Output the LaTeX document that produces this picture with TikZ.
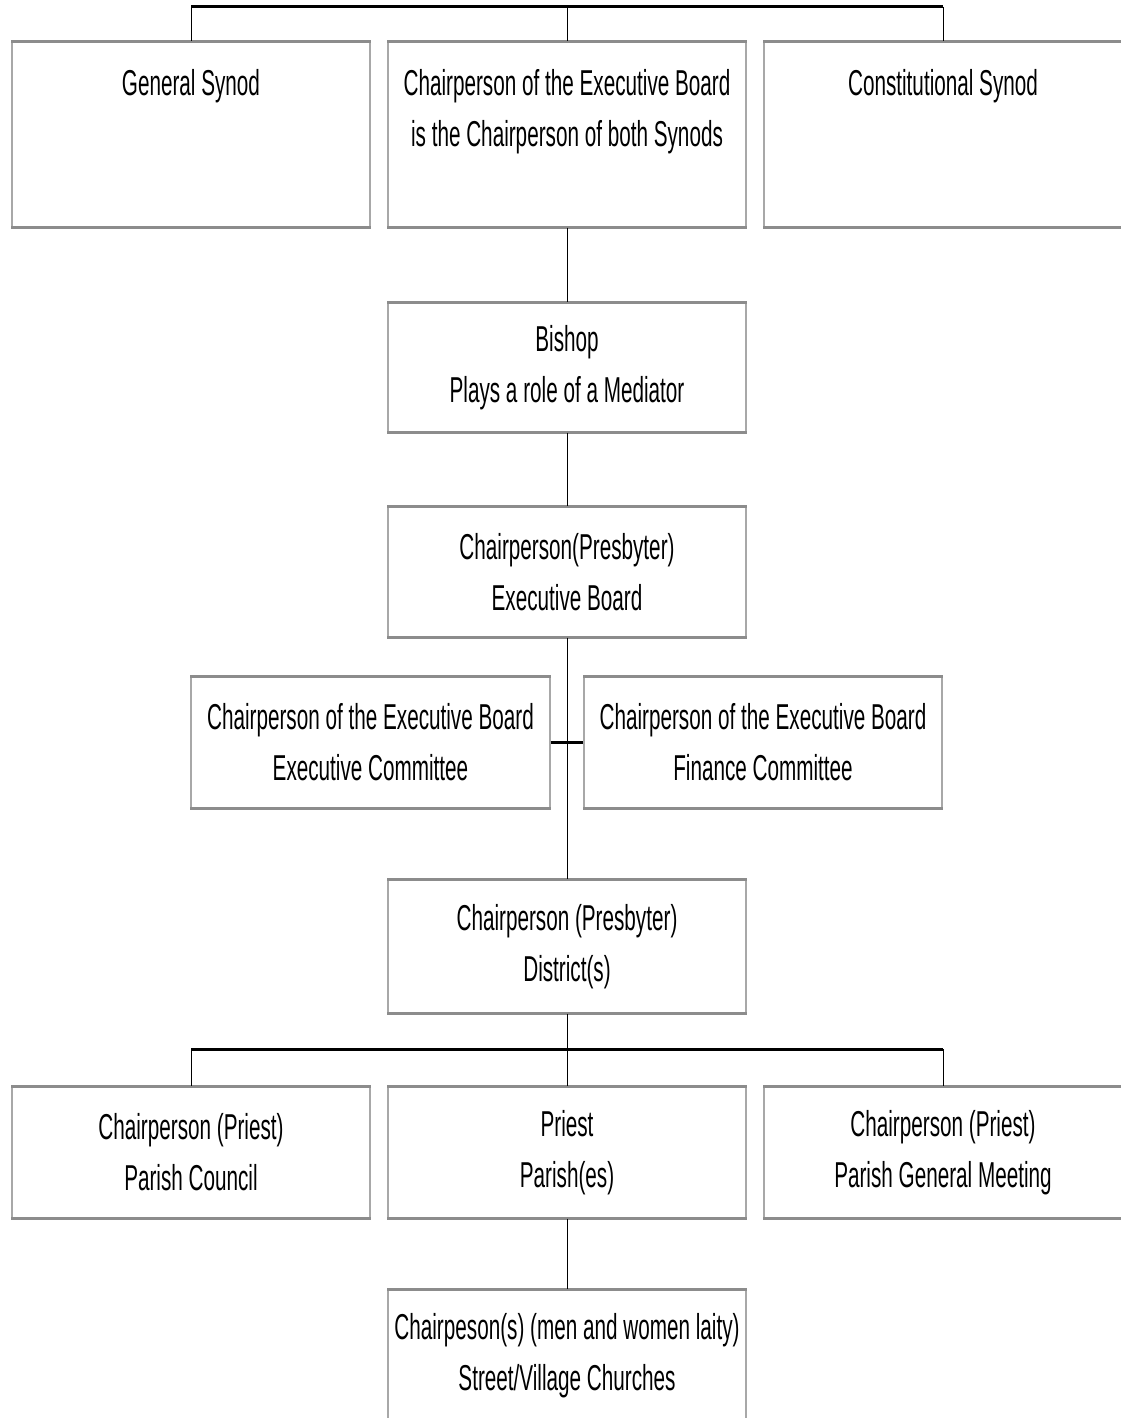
\documentclass[tikz,border=0pt]{standalone}
\usepackage{fontspec}
\setmainfont[FakeStretch=0.575]{Liberation Sans}
\usetikzlibrary{positioning}

\definecolor{rimgray}{HTML}{8C8C8C}
\definecolor{sidegray}{HTML}{A8A8A8}

\begin{document}
\begin{tikzpicture}[x=1pt, y=-1pt,
  box/.style={draw=sidegray, line width=1.2pt, minimum width=358pt, minimum height=131pt,
    inner sep=0pt, align=center, font=\fontsize{36}{51}\selectfont},
  txt/.style={inner sep=0pt, align=center, font=\fontsize{36}{51}\selectfont},
  rim/.style={draw=rimgray, line width=3pt},
  link/.style={draw=black, line width=1pt},
  bus/.style={draw=black, line width=3pt}]
\useasboundingbox (0,0) rectangle (1121,1418);

% synods
\node[box, minimum height=185pt] (gs) at (191,134.5) {};
\node[box, minimum height=185pt] (cb) at (567,134.5) {};
\node[box, minimum height=185pt] (cs) at (943,134.5) {};
\node[txt, below=28pt of gs.north] (gstext) {General Synod};
\node[txt, below=28pt of cb.north] (cbtext) {Chairperson of the Executive Board\\is the Chairperson of both Synods};
\node[txt, below=28pt of cs.north] (cstext) {Constitutional Synod};

% diocese
\node[box, minimum height=129pt] (bishop) at (567,367.5) {Bishop\\Plays a role of a Mediator};
\node[box, minimum height=130pt] (board) at (567,572) {Chairperson(Presbyter)\\Executive Board};
\node[box, minimum width=359pt] (exco) at (370.5,742.5) {Chairperson of the Executive Board\\Executive Committee};
\node[box] (finco) at (763,742.5) {Chairperson of the Executive Board\\Finance Committee};
\node[box, minimum height=133pt] (district) at (567,946.5) {Chairperson (Presbyter)\\District(s)};

% parish level
\node[box] (council) at (191,1152.5) {Chairperson (Priest)\\Parish Council};
\node[box] (parish) at (567,1152.5) {Priest\\Parish(es)};
\node[box] (meeting) at (943,1152.5) {Chairperson (Priest)\\Parish General Meeting};
\node[box] (laity) at (567,1355.5) {Chairpeson(s) (men and women laity)\\Street/Village Churches};

% heavy top and bottom edges
\foreach \n in {gs,cb,cs,bishop,board,exco,finco,district,council,parish,meeting,laity}
  \draw[rim] (\n.north west) -- (\n.north east) (\n.south west) -- (\n.south east);

% buses
\coordinate (topbus) at (567,7);
\coordinate (lowbus) at (567,1049);
\draw[bus] (gs.north |- topbus) -- (cs.north |- topbus);
\draw[bus] (council.north |- lowbus) -- (meeting.north |- lowbus);
\draw[bus] (exco.east) -- (finco.west);

% links
\foreach \n in {gs,cb,cs}
  \draw[link] (\n.north |- topbus) -- (\n.north);
\foreach \n in {council,meeting}
  \draw[link] (\n.north |- lowbus) -- (\n.north);
\draw[link] (cb.south) -- (bishop.north);
\draw[link] (bishop.south) -- (board.north);
\draw[link] (board.south) -- (district.north);
\draw[link] (district.south) -- (parish.north);
\draw[link] (parish.south) -- (laity.north);
\end{tikzpicture}
\end{document}
